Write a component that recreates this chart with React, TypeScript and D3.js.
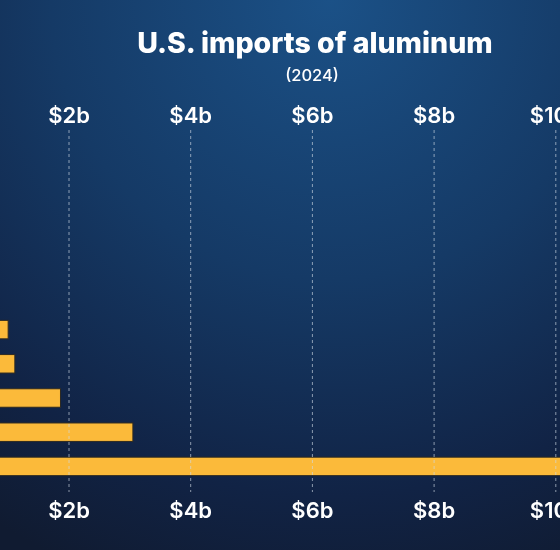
import React from "react";
import * as d3 from "d3";

const countries = ["Bahrain", "South Korea", "China", "UAE", "Canada"];
const values = [1.0, 1.11, 1.86, 3.05, 11.0];
const ticks = [2, 4, 6, 8, 10];
const tickLabel = (v: number) => `$${v}b`;

const W = 560;
const H = 550;

export default function App() {
  const x = d3.scaleLinear().domain([0, 10]).range([-52.7, 555.8]);
  const y = d3
    .scaleBand<string>()
    .domain(countries)
    .range([312.5, 483.5])
    .paddingInner(0.46)
    .paddingOuter(0.23);
  const font = "Inter, 'Open Sans', sans-serif";
  return (
    <svg
      width={W}
      height={H}
      style={{ position: "fixed", left: 0, top: 0, display: "block" }}
    >
      <defs>
        <radialGradient id="bg" cx="330" cy="0" r="620" gradientUnits="userSpaceOnUse">
          <stop offset="0" stopColor="#1b5187" />
          <stop offset="0.45" stopColor="#153a66" />
          <stop offset="0.8" stopColor="#112345" />
          <stop offset="1" stopColor="#101b31" />
        </radialGradient>
      </defs>
      <rect x={0} y={0} width={W} height={H} fill="url(#bg)" />
      {countries.map((c, i) => (
        <rect
          key={c}
          x={x(0)}
          y={y(c)}
          width={x(values[i]) - x(0)}
          height={y.bandwidth()}
          fill="#fbba3a"
          stroke="#2e2a22"
          strokeWidth={1}
        />
      ))}
      {ticks.map((t) => (
        <g key={t}>
          <line
            x1={x(t)}
            x2={x(t)}
            y1={130}
            y2={492}
            stroke="#d0d8e4"
            strokeOpacity={0.65}
            strokeWidth={1}
            strokeDasharray="3,3"
          />
          <text
            x={x(t)}
            y={123}
            textAnchor="middle"
            fill="#ffffff"
            fontFamily={font}
            fontWeight={600}
            fontSize={22}
          >
            {tickLabel(t)}
          </text>
          <text
            x={x(t)}
            y={518}
            textAnchor="middle"
            fill="#ffffff"
            fontFamily={font}
            fontWeight={600}
            fontSize={22}
          >
            {tickLabel(t)}
          </text>
        </g>
      ))}
      <text
        x={315}
        y={53}
        textAnchor="middle"
        fill="#ffffff"
        fontFamily={font}
        fontWeight={800}
        fontSize={28.5}
      >
        U.S. imports of aluminum
      </text>
      <text
        x={312}
        y={81}
        textAnchor="middle"
        fill="#ffffff"
        fontFamily={font}
        fontWeight={500}
        fontSize={16.5}
      >
        (2024)
      </text>
    </svg>
  );
}
